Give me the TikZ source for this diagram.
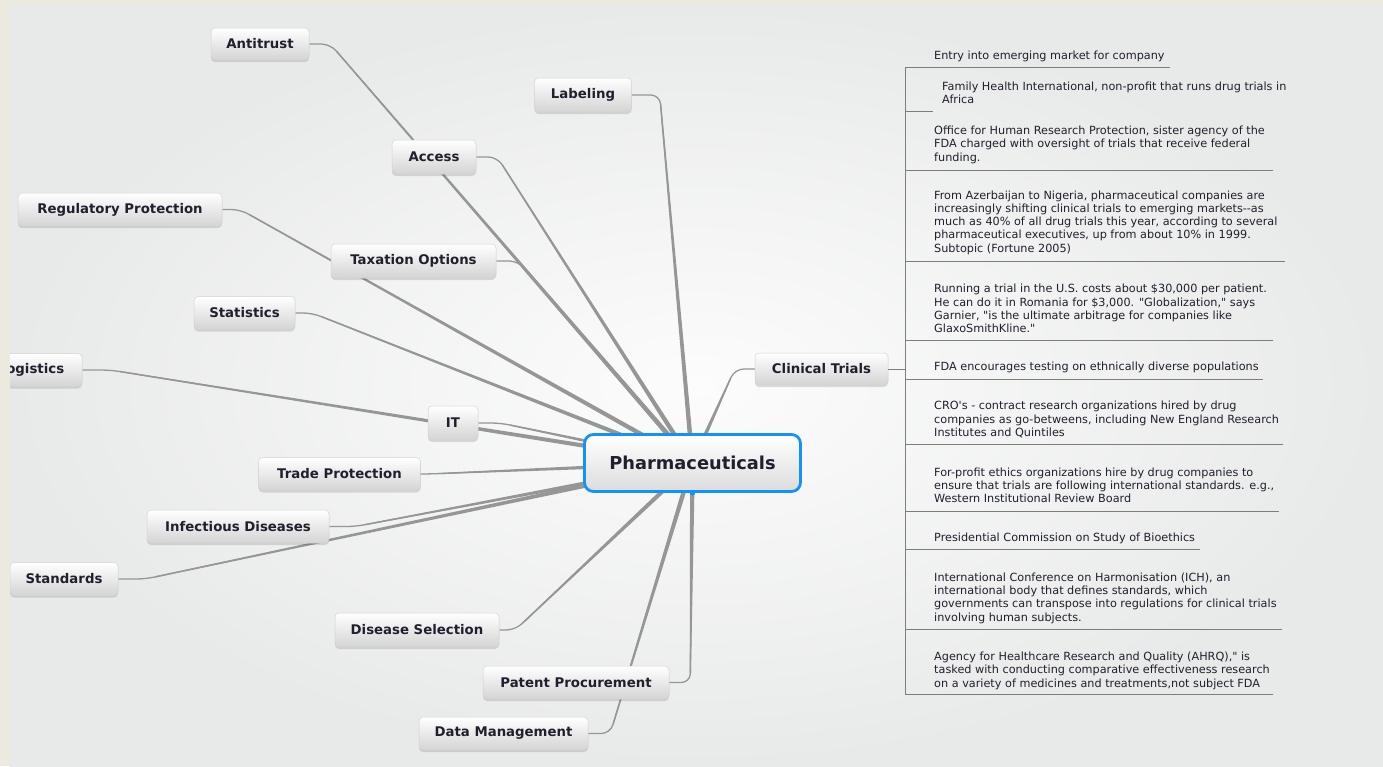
\documentclass[tikz,border=0pt]{standalone}
\usepackage{fontspec}
\setmainfont{DejaVu Sans}[Ligatures=TeXOff]
\usetikzlibrary{calc,shadows}
\definecolor{beige}{RGB}{236,233,222}
\definecolor{bgout}{RGB}{232,234,233}
\definecolor{bgin}{RGB}{252,252,252}
\definecolor{conncol}{RGB}{150,150,150}
\definecolor{boxbot}{RGB}{212,212,212}
\definecolor{boxline}{RGB}{210,210,210}
\definecolor{txt}{RGB}{35,30,45}
\definecolor{blueb}{RGB}{20,145,250}
\definecolor{listline}{RGB}{125,125,125}
\pgfdeclarelayer{back}
\pgfdeclarelayer{lines}
\pgfsetlayers{back,lines,main}
\tikzset{
  topic/.style={rounded corners=4pt, top color=white, bottom color=boxbot, draw=boxline,
    line width=0.5pt, text=txt, font=\fontsize{13.3}{15}\selectfont\bfseries, inner sep=0pt,
    minimum height=33pt, drop shadow={shadow xshift=0pt, shadow yshift=-2pt, opacity=0.12, fill=black}},
  central/.style={rounded corners=9pt, top color=white, bottom color={rgb,255:red,220;green,220;blue,220},
    draw=blueb, line width=2.8pt, text=txt, font=\fontsize{17.8}{20}\selectfont\bfseries,
    inner sep=0pt, minimum width=216pt, minimum height=57pt},
  thinconn/.style={draw=conncol, line width=1.3pt, rounded corners=9pt},
  item/.style={anchor=north west, inner sep=0pt, align=left, text=txt,
    font=\fontsize{11.25}{13.3}\selectfont},
  ulist/.style={draw=listline, line width=0.8pt},
}
\newcommand\taper[4]{%
  \fill[conncol] ($(#1)!#3!90:(#2)$) -- ($(#2)!#4!-90:(#1)$) -- ($(#2)!#4!90:(#1)$) -- ($(#1)!#3!-90:(#2)$) -- cycle;}
\newcommand\branch[3]{%
  \draw[thinconn] (#1) -- ++(#2,0) coordinate (#3) -- (P.center);
  \coordinate (#3t) at ($(#3)!10pt!(P.center)$);
  \taper{#3t}{P.center}{0.65pt}{2.4pt}}
\begin{document}
\begin{tikzpicture}[x=1pt,y=-1pt]
\useasboundingbox (0,0) rectangle (1383,766);
\begin{pgfonlayer}{back}
\shade[inner color=bgin, outer color=bgout] (10,6) rectangle (1383,766);
\end{pgfonlayer}

% central
\node[central] (P) at (692.5,463) {Pharmaceuticals};
\fill[blueb] (P.south) circle (2.6pt);

% topics
\node[topic, minimum width=98pt, minimum height=32pt] (antitrust) at (260,44) {Antitrust};
\node[topic, minimum width=97pt, minimum height=34pt] (labeling) at (583,95) {Labeling};
\node[topic, minimum width=84pt, minimum height=34pt] (access) at (434,157) {Access};
\node[topic, minimum width=204pt] (regulatory) at (120,209.5) {Regulatory Protection};
\node[topic, minimum width=165pt, minimum height=34pt] (taxation) at (413.5,261) {Taxation Options};
\node[topic, minimum width=101pt] (statistics) at (244.5,313) {Statistics};
\node[topic, minimum width=102pt] (logistics) at (31,370) {Logistics};
\node[topic, minimum width=50pt, minimum height=34pt] (it) at (453,423) {IT};
\node[topic, minimum width=162pt] (trade) at (339.5,474) {Trade Protection};
\node[topic, minimum width=182pt] (infectious) at (238,526.5) {Infectious Diseases};
\node[topic, minimum width=108pt] (standards) at (64,579) {Standards};
\node[topic, minimum width=164pt, minimum height=34pt] (disease) at (417,630) {Disease Selection};
\node[topic, minimum width=186pt] (patent) at (576,682.5) {Patent Procurement};
\node[topic, minimum width=169pt] (data) at (503.5,733.5) {Data Management};
\node[topic, minimum width=133pt, minimum height=32pt] (clinical) at (821.5,369) {Clinical Trials};

% connectors
\begin{pgfonlayer}{lines}
\branch{antitrust.east}{21}{ca}
\branch{labeling.east}{28}{cl}
\branch{access.east}{21}{cc}
\branch{regulatory.east}{18}{cr}
\branch{taxation.east}{22}{ct}
\branch{statistics.east}{17}{cs}
\branch{logistics.east}{28}{cg}
\branch{it.east}{22}{ci}
\branch{trade.east}{8}{cd}
\branch{infectious.east}{26}{cf}
\branch{standards.east}{27}{cn}
\branch{disease.east}{16}{ce}
\branch{patent.east}{21}{cp}
\branch{data.east}{22}{cm}
\branch{clinical.west}{-20}{ck}
\end{pgfonlayer}

% clinical trials list
\coordinate (vt) at (905,67);
\coordinate (vb) at (905,694);
\draw[ulist] (vt) -- (vb);
\draw[ulist] (clinical.east) -- (clinical.east -| vt);
\draw[ulist] (905,67) -- (1170,67);
\draw[ulist] (905,111) -- (933,111);
\draw[ulist] (905,170) -- (1273,170);
\draw[ulist] (905,261) -- (1285,261);
\draw[ulist] (905,340) -- (1273,340);
\draw[ulist] (905,379) -- (1263,379);
\draw[ulist] (905,444) -- (1283,444);
\draw[ulist] (905,511) -- (1279,511);
\draw[ulist] (905,549) -- (1200,549);
\draw[ulist] (905,629) -- (1282,629);
\draw[ulist] (905,694) -- (1273,694);

\node[item] (t1) at (934,50.2) {\strut Entry into emerging market for company};
\node[item] (t2) at (942,80.9) {\strut Family Health International, non-profit that runs drug trials in\\Africa};
\node[item] (t3) at (934,124.9) {\strut Office for Human Research Protection, sister agency of the\\FDA charged with oversight of trials that receive federal\\funding.};
\node[item] (t4) at (934,189.5) {\strut From Azerbaijan to Nigeria, pharmaceutical companies are\\increasingly shifting clinical trials to emerging markets-{}-as\\much as 40\% of all drug trials this year, according to several\\pharmaceutical executives, up from about 10\% in 1999.\\Subtopic (Fortune 2005)};
\node[item] (t5) at (934,283.2) {\strut Running a trial in the U.S. costs about \$30,000 per patient.\\He can do it in Romania for \$3,000. "Globalization," says\\Garnier, "is the ultimate arbitrage for companies like\\GlaxoSmithKline."};
\node[item] (t6) at (934,361.2) {\strut FDA encourages testing on ethnically diverse populations};
\node[item] (t7) at (934,400.2) {\strut CRO's - contract research organizations hired by drug\\companies as go-betweens, including New England Research\\Institutes and Quintiles};
\node[item] (t8) at (934,466.7) {\strut For-profit ethics organizations hire by drug companies to\\ensure that trials are following international standards. e.g.,\\Western Institutional Review Board};
\node[item] (t9) at (934,532.2) {\strut Presidential Commission on Study of Bioethics};
\node[item] (t10) at (934,571.7) {\strut International Conference on Harmonisation (ICH), an\\international body that defines standards, which\\governments can transpose into regulations for clinical trials\\involving human subjects.};
\node[item] (t11) at (934,650.9) {\strut Agency for Healthcare Research and Quality (AHRQ)," is\\tasked with conducting comparative effectiveness research\\on a variety of medicines and treatments,not subject FDA};

% frame strips
\fill[beige] (0,0) rectangle (10,766);
\fill[beige] (0,0) rectangle (1383,6);
\end{tikzpicture}
\end{document}
